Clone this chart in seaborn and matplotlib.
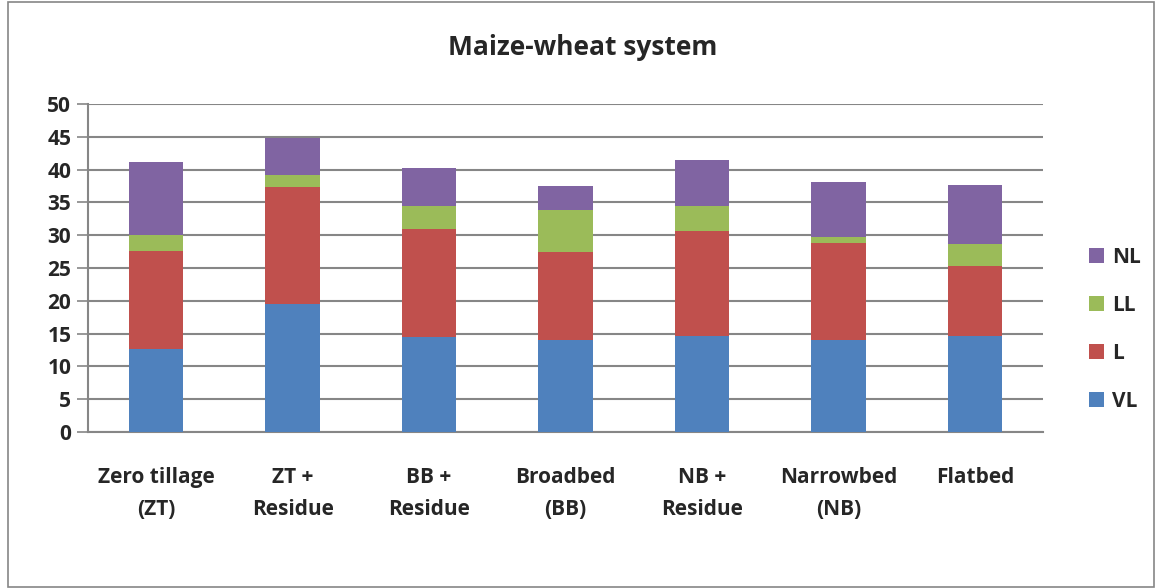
import numpy as np
import pandas as pd
import matplotlib
matplotlib.use("Agg")
import matplotlib.pyplot as plt
import seaborn as sns
from matplotlib.patches import Rectangle, Patch

categories = ["Zero tillage\n(ZT)", "ZT +\nResidue", "BB +\nResidue", "Broadbed\n(BB)",
              "NB +\nResidue", "Narrowbed\n(NB)", "Flatbed"]
series = ["VL", "L", "LL", "NL"]
VL = [12.7, 19.55, 14.45, 14.05, 14.65, 14.1, 14.65]
L = [14.85, 17.8, 16.5, 13.35, 15.95, 14.7, 10.6]
LL = [2.55, 1.85, 3.55, 6.45, 3.9, 0.9, 3.45]
NL = [11.0, 5.6, 5.7, 3.65, 7.0, 8.4, 9.0]
colors = {"VL": "#4F81BD", "L": "#C0504D", "LL": "#9BBB59", "NL": "#8064A2"}
yticks = list(range(0, 51, 5))

sns.set_theme(style="white")
plt.rcParams["font.family"] = ["Open Sans", "DejaVu Sans"]
plt.rcParams["font.weight"] = "bold"

df = pd.DataFrame({"cat": categories, "VL": VL, "L": L, "LL": LL, "NL": NL})
cum = df[series].cumsum(axis=1)

fig = plt.figure(figsize=(11.59, 5.88), dpi=100)
ax = fig.add_axes([0.0759, 0.2653, 0.8241, 0.8231 - 0.2653])

for s in reversed(series):
    sns.barplot(x=df["cat"], y=cum[s], color=colors[s], width=0.4, ax=ax,
                saturation=1, edgecolor="none", linewidth=0, zorder=3)

ax.set_xlim(-0.5, 6.5)
ax.set_ylim(0, 50)
ax.set_yticks(yticks)
ax.set_yticklabels([str(t) for t in yticks], fontsize=15, fontweight="bold")
ax.set_xlabel("")
ax.set_ylabel("")
ax.set_xticks(range(len(categories)))
ax.set_xticklabels(categories, fontsize=15, fontweight="bold", linespacing=1.72)
ax.set_xticks(np.arange(-0.5, 7.0, 1.0), minor=True)
ax.tick_params(axis="x", which="major", length=0, pad=25)
ax.tick_params(axis="x", which="minor", length=6, width=1.2, color="#868686", direction="out")
ax.tick_params(axis="y", which="major", length=8, width=1.2, color="#868686", direction="out", pad=4, left=True)
ax.yaxis.grid(True, color="#868686", linewidth=1.5, zorder=0)
ax.set_axisbelow(True)
for side in ["top", "right"]:
    ax.spines[side].set_visible(False)
for side in ["left", "bottom"]:
    ax.spines[side].set_color("#868686")
    ax.spines[side].set_linewidth(1.5)

fig.text(0.503, 0.92, "Maize-wheat system", ha="center", va="center",
         fontsize=19, fontweight="bold")

handles = [Patch(facecolor=colors[s], edgecolor="none") for s in reversed(series)]
leg = fig.legend(handles, list(reversed(series)), loc="center left",
                 bbox_to_anchor=(0.923, 0.44), frameon=False, fontsize=15,
                 handlelength=0.75, handleheight=0.75, labelspacing=1.3, handletextpad=0.4)
for t in leg.get_texts():
    t.set_fontweight("bold")

fig.patches.append(Rectangle((0.007, 0.002), 0.989, 0.995, transform=fig.transFigure,
                             fill=False, edgecolor="#868686", linewidth=1.2))

fig.savefig("out.png", dpi=100)
